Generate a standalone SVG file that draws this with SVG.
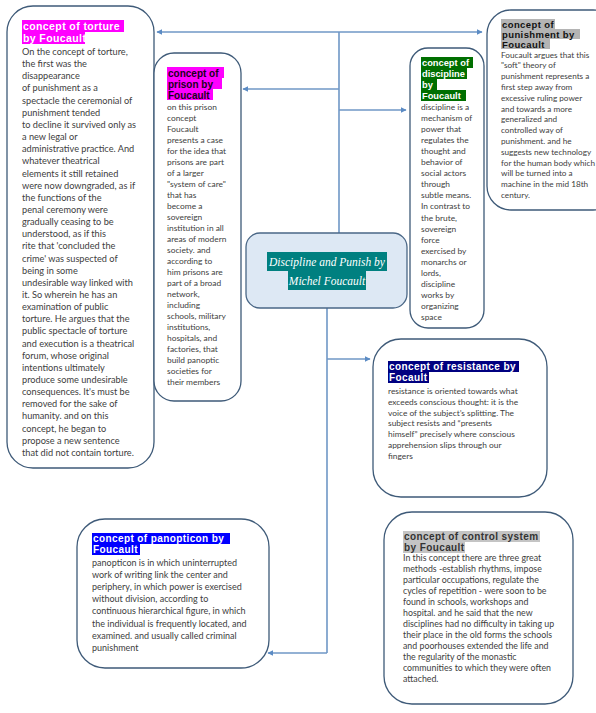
<svg xmlns="http://www.w3.org/2000/svg" width="596" height="713" viewBox="0 0 596 713">
<defs>
<marker id="ah" viewBox="0 0 10 10" refX="9" refY="5" markerWidth="6" markerHeight="6" orient="auto" markerUnits="userSpaceOnUse">
<path d="M0,0 L10,5 L0,10 Z" fill="#5b8bc4"/>
</marker>
</defs>
<style>
.box{fill:#ffffff;stroke:#3e5a78;stroke-width:1.3}
.body{font-family:Lato,"Liberation Sans",sans-serif;fill:#404040}
.ttl{font-family:"Liberation Sans",Arial,sans-serif;font-weight:bold;letter-spacing:0.4px}
.ttn{font-family:"Liberation Sans",Arial,sans-serif;font-weight:bold}
.con{fill:none;stroke:#6f97c6;stroke-width:1.6}
</style>
<rect x="0" y="0" width="596" height="713" fill="#ffffff"/>

<g id="connectors">
<line class="con" x1="339" y1="32" x2="157" y2="32" marker-end="url(#ah)"/>
<line class="con" x1="339" y1="32" x2="482" y2="32" marker-end="url(#ah)"/>
<line class="con" x1="339" y1="32" x2="339" y2="233"/>
<line class="con" x1="339" y1="89" x2="243" y2="89" marker-end="url(#ah)"/>
<line class="con" x1="339" y1="110" x2="406" y2="110" marker-end="url(#ah)"/>
<line class="con" x1="327" y1="308" x2="327" y2="653"/>
<line class="con" x1="327" y1="359" x2="370" y2="359" marker-end="url(#ah)"/>
<line class="con" x1="327" y1="653" x2="268" y2="653" marker-end="url(#ah)"/>
</g>

<g id="torture">
<rect class="box" x="7" y="6" width="147" height="462" rx="26"/>
<rect x="22" y="20" width="102" height="12" fill="#ff00ff"/>
<rect x="22" y="32" width="63" height="12" fill="#ff00ff"/>
<text class="ttl" font-size="10.5" fill="#ffffff"><tspan x="23" y="30">concept of torture</tspan><tspan x="23" y="42">by Foucault</tspan></text>
<text class="body" font-size="9.2">
<tspan x="22" y="55">On the concept of torture,</tspan>
<tspan x="22" dy="12.15">the first was the</tspan>
<tspan x="22" dy="12.15">disappearance</tspan>
<tspan x="22" dy="12.15">of punishment as a</tspan>
<tspan x="22" dy="12.15">spectacle the ceremonial of</tspan>
<tspan x="22" dy="12.15">punishment tended</tspan>
<tspan x="22" dy="12.15">to decline it survived only as</tspan>
<tspan x="22" dy="12.15">a new legal or</tspan>
<tspan x="22" dy="12.15">administrative practice. And</tspan>
<tspan x="22" dy="12.15">whatever theatrical</tspan>
<tspan x="22" dy="12.15">elements it still retained</tspan>
<tspan x="22" dy="12.15">were now downgraded, as if</tspan>
<tspan x="22" dy="12.15">the functions of the</tspan>
<tspan x="22" dy="12.15">penal ceremony were</tspan>
<tspan x="22" dy="12.15">gradually ceasing to be</tspan>
<tspan x="22" dy="12.15">understood, as if this</tspan>
<tspan x="22" dy="12.15">rite that 'concluded the</tspan>
<tspan x="22" dy="12.15">crime' was suspected of</tspan>
<tspan x="22" dy="12.15">being in some</tspan>
<tspan x="22" dy="12.15">undesirable way linked with</tspan>
<tspan x="22" dy="12.15">it. So wherein he has an</tspan>
<tspan x="22" dy="12.15">examination of public</tspan>
<tspan x="22" dy="12.15">torture. He argues that the</tspan>
<tspan x="22" dy="12.15">public spectacle of torture</tspan>
<tspan x="22" dy="12.15">and execution is a theatrical</tspan>
<tspan x="22" dy="12.15">forum, whose original</tspan>
<tspan x="22" dy="12.15">intentions ultimately</tspan>
<tspan x="22" dy="12.15">produce some undesirable</tspan>
<tspan x="22" dy="12.15">consequences. It's must be</tspan>
<tspan x="22" dy="12.15">removed for the sake of</tspan>
<tspan x="22" dy="12.15">humanity. and on this</tspan>
<tspan x="22" dy="12.15">concept, he began to</tspan>
<tspan x="22" dy="12.15">propose a new sentence</tspan>
<tspan x="22" dy="12.15">that did not contain torture.</tspan>
</text>
</g>

<g id="prison">
<rect class="box" x="154" y="53" width="87" height="348" rx="20"/>
<rect x="167" y="67" width="57" height="11" fill="#ff00ff"/>
<rect x="167" y="78" width="55" height="11" fill="#ff00ff"/>
<rect x="167" y="89" width="46" height="11" fill="#ff00ff"/>
<text class="ttn" font-size="10" fill="#1a001a"><tspan x="168" y="76.5">concept of</tspan><tspan x="168" y="87.5">prison by</tspan><tspan x="168" y="98.5">Foucault</tspan></text>
<text class="body" font-size="8.4">
<tspan x="167" y="110">on this prison</tspan>
<tspan x="167" dy="11">concept</tspan>
<tspan x="167" dy="11">Foucault</tspan>
<tspan x="167" dy="11">presents a case</tspan>
<tspan x="167" dy="11">for the idea that</tspan>
<tspan x="167" dy="11">prisons are part</tspan>
<tspan x="167" dy="11">of a larger</tspan>
<tspan x="167" dy="11">"system of care"</tspan>
<tspan x="167" dy="11">that has</tspan>
<tspan x="167" dy="11">become a</tspan>
<tspan x="167" dy="11">sovereign</tspan>
<tspan x="167" dy="11">institution in all</tspan>
<tspan x="167" dy="11">areas of modern</tspan>
<tspan x="167" dy="11">society. and</tspan>
<tspan x="167" dy="11">according to</tspan>
<tspan x="167" dy="11">him prisons are</tspan>
<tspan x="167" dy="11">part of a broad</tspan>
<tspan x="167" dy="11">network,</tspan>
<tspan x="167" dy="11">including</tspan>
<tspan x="167" dy="11">schools, military</tspan>
<tspan x="167" dy="11">institutions,</tspan>
<tspan x="167" dy="11">hospitals, and</tspan>
<tspan x="167" dy="11">factories, that</tspan>
<tspan x="167" dy="11">build panoptic</tspan>
<tspan x="167" dy="11">societies for</tspan>
<tspan x="167" dy="11">their members</tspan>
</text>
</g>

<g id="discipline">
<rect class="box" x="410" y="48" width="74" height="280" rx="18"/>
<rect x="421" y="57" width="52" height="11" fill="#006f00"/>
<rect x="421" y="68" width="46" height="11" fill="#006f00"/>
<rect x="421" y="79" width="16" height="11" fill="#006f00"/>
<rect x="421" y="90" width="45" height="11" fill="#006f00"/>
<text class="ttn" font-size="9.3" fill="#ffffff"><tspan x="422" y="66">concept of</tspan><tspan x="422" y="77">discipline</tspan><tspan x="422" y="88">by</tspan><tspan x="422" y="99">Foucault</tspan></text>
<text class="body" font-size="8.4">
<tspan x="421" y="110">discipline is a</tspan>
<tspan x="421" dy="11.05">mechanism of</tspan>
<tspan x="421" dy="11.05">power that</tspan>
<tspan x="421" dy="11.05">regulates the</tspan>
<tspan x="421" dy="11.05">thought and</tspan>
<tspan x="421" dy="11.05">behavior of</tspan>
<tspan x="421" dy="11.05">social actors</tspan>
<tspan x="421" dy="11.05">through</tspan>
<tspan x="421" dy="11.05">subtle means.</tspan>
<tspan x="421" dy="11.05">In contrast to</tspan>
<tspan x="421" dy="11.05">the brute,</tspan>
<tspan x="421" dy="11.05">sovereign</tspan>
<tspan x="421" dy="11.05">force</tspan>
<tspan x="421" dy="11.05">exercised by</tspan>
<tspan x="421" dy="11.05">monarchs or</tspan>
<tspan x="421" dy="11.05">lords,</tspan>
<tspan x="421" dy="11.05">discipline</tspan>
<tspan x="421" dy="11.05">works by</tspan>
<tspan x="421" dy="11.05">organizing</tspan>
<tspan x="421" dy="11.05">space</tspan>
</text>
</g>

<g id="punishment">
<rect class="box" x="487" y="10" width="130" height="200" rx="24"/>
<rect x="501" y="19" width="54" height="10" fill="#b4b4b4"/>
<rect x="501" y="29" width="79" height="10" fill="#b4b4b4"/>
<rect x="501" y="39" width="49" height="10" fill="#b4b4b4"/>
<text class="ttl" font-size="9.5" fill="#111111"><tspan x="502" y="27.5">concept of</tspan><tspan x="502" y="37.5">punishment by</tspan><tspan x="502" y="47.5">Foucault</tspan></text>
<text class="body" font-size="8.2">
<tspan x="501" y="57.5">Foucault argues that this</tspan>
<tspan x="501" dy="10.8">"soft" theory of</tspan>
<tspan x="501" dy="10.8">punishment represents a</tspan>
<tspan x="501" dy="10.8">first step away from</tspan>
<tspan x="501" dy="10.8">excessive ruling power</tspan>
<tspan x="501" dy="10.8">and towards a more</tspan>
<tspan x="501" dy="10.8">generalized and</tspan>
<tspan x="501" dy="10.8">controlled way of</tspan>
<tspan x="501" dy="10.8">punishment. and he</tspan>
<tspan x="501" dy="10.8">suggests new technology</tspan>
<tspan x="501" dy="10.8">for the human body which</tspan>
<tspan x="501" dy="10.8">will be turned into a</tspan>
<tspan x="501" dy="10.8">machine in the mid 18th</tspan>
<tspan x="501" dy="10.8">century.</tspan>
</text>
</g>

<g id="center">
<rect x="246" y="233" width="161" height="75" rx="14" fill="#dde8f4" stroke="#4a6786" stroke-width="1.3"/>
<rect x="267" y="252" width="120" height="19" fill="#008080"/>
<rect x="288" y="271" width="78" height="19" fill="#008080"/>
<text font-family="'Liberation Serif',serif" font-style="italic" font-size="11.5" fill="#ffffff" text-anchor="middle"><tspan x="327" y="265.5">Discipline and Punish by</tspan><tspan x="327" y="284.5">Michel Foucault</tspan></text>
</g>

<g id="resistance">
<rect class="box" x="373" y="339" width="174" height="158" rx="28"/>
<rect x="388" y="361" width="131" height="11" fill="#000080"/>
<rect x="388" y="372" width="41" height="11" fill="#000080"/>
<text class="ttl" font-size="10" fill="#ffffff"><tspan x="389" y="370">concept of resistance by</tspan><tspan x="389" y="381">Focault</tspan></text>
<text class="body" font-size="8.4">
<tspan x="388" y="394">resistance is oriented towards what</tspan>
<tspan x="388" dy="10.8">exceeds conscious thought: it is the</tspan>
<tspan x="388" dy="10.8">voice of the subject’s splitting. The</tspan>
<tspan x="388" dy="10.8">subject resists and “presents</tspan>
<tspan x="388" dy="10.8">himself” precisely where conscious</tspan>
<tspan x="388" dy="10.8">apprehension slips through our</tspan>
<tspan x="388" dy="10.8">fingers</tspan>
</text>
</g>

<g id="panopticon">
<rect class="box" x="77" y="519" width="192" height="149" rx="28"/>
<rect x="92" y="533" width="138" height="11" fill="#0000ff"/>
<rect x="92" y="544" width="48" height="11" fill="#0000ff"/>
<text class="ttl" font-size="10" fill="#ffffff"><tspan x="93" y="542">concept of panopticon by</tspan><tspan x="93" y="553">Foucault</tspan></text>
<text class="body" font-size="9">
<tspan x="92" y="566">panopticon is in which uninterrupted</tspan>
<tspan x="92" dy="12.1">work of writing link the center and</tspan>
<tspan x="92" dy="12.1">periphery, in which power is exercised</tspan>
<tspan x="92" dy="12.1">without division, according to</tspan>
<tspan x="92" dy="12.1">continuous hierarchical figure, in which</tspan>
<tspan x="92" dy="12.1">the individual is frequently located, and</tspan>
<tspan x="92" dy="12.1">examined. and usually called criminal</tspan>
<tspan x="92" dy="12.1">punishment</tspan>
</text>
</g>

<g id="control">
<rect class="box" x="384" y="512" width="189" height="192" rx="28"/>
<rect x="403" y="531" width="137" height="11" fill="#c4c4c4"/>
<rect x="403" y="542" width="62" height="11" fill="#c4c4c4"/>
<text class="ttl" font-size="10" fill="#333333"><tspan x="404" y="540">concept of control system</tspan><tspan x="404" y="551">by Foucault</tspan></text>
<text class="body" font-size="8.8">
<tspan x="403" y="561">In this concept there are three great</tspan>
<tspan x="403" dy="11">methods -establish rhythms, impose</tspan>
<tspan x="403" dy="11">particular occupations, regulate the</tspan>
<tspan x="403" dy="11">cycles of repetition - were soon to be</tspan>
<tspan x="403" dy="11">found in schools, workshops and</tspan>
<tspan x="403" dy="11">hospital. and he said that the new</tspan>
<tspan x="403" dy="11">disciplines had no difficulty in taking up</tspan>
<tspan x="403" dy="11">their place in the old forms the schools</tspan>
<tspan x="403" dy="11">and poorhouses extended the life and</tspan>
<tspan x="403" dy="11">the regularity of the monastic</tspan>
<tspan x="403" dy="11">communities to which they were often</tspan>
<tspan x="403" dy="11">attached.</tspan>
</text>
</g>
</svg>
